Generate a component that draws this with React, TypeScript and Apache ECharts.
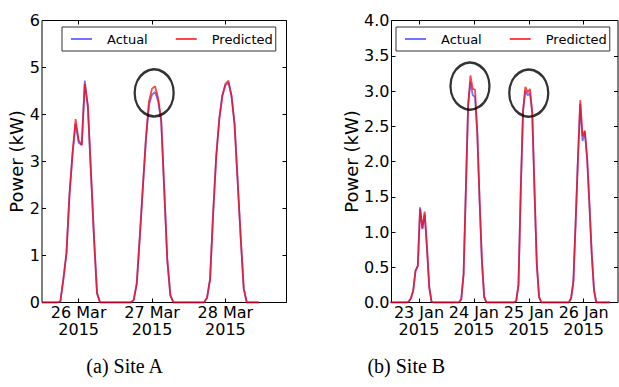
import React, { useEffect, useRef } from 'react';
import * as echarts from 'echarts';

// ---------- Site A (hours relative to 26 Mar 2015 00:00, hourly from -12) ----------
const startA = -12;
const actualA = [
  0, 0, 0, 0, 0, 0,
  0.02, 0.5, 1.05, 2.3, 3.15, 3.8, 3.4, 3.35, 4.72, 4.15, 2.8, 1.4, 0.2,
  0, 0, 0, 0, 0, 0, 0, 0, 0, 0,
  0, 0.05, 0.4, 1.4, 2.45, 3.45, 4.2, 4.42, 4.48, 4.28, 3.85, 2.4, 0.9, 0.15,
  0, 0, 0, 0, 0, 0, 0, 0, 0, 0,
  0, 0.1, 0.5, 1.9, 3.1, 3.9, 4.4, 4.62, 4.68, 4.4, 3.8, 2.6, 1.4, 0.3,
  0, 0, 0, 0, 0,
];
const predictedA = [
  0, 0, 0, 0, 0, 0,
  0.02, 0.5, 1.05, 2.3, 3.2, 3.9, 3.45, 3.35, 4.65, 4.2, 2.8, 1.4, 0.2,
  0, 0, 0, 0, 0, 0, 0, 0, 0, 0,
  0, 0.05, 0.4, 1.4, 2.45, 3.5, 4.28, 4.55, 4.6, 4.35, 3.9, 2.4, 0.9, 0.15,
  0, 0, 0, 0, 0, 0, 0, 0, 0, 0,
  0, 0.1, 0.5, 1.9, 3.1, 3.9, 4.4, 4.65, 4.72, 4.4, 3.8, 2.6, 1.4, 0.3,
  0, 0, 0, 0, 0,
];
const tickHoursA = [0, 24, 48];
const tickLabelsA = ['26 Mar\n2015', '27 Mar\n2015', '28 Mar\n2015'];
const circlesA = [[24.7, 4.46]];

// ---------- Site B (hours relative to 23 Jan 2015 00:00, hourly from -12.5) ----------
const startB = -12.5;
const actualB = [
  0, 0, 0, 0, 0, 0, 0, 0,
  0.01, 0.06, 0.17, 0.45, 0.52, 1.35, 1.04, 1.25, 0.78, 0.22, 0.01,
  0, 0, 0, 0, 0, 0, 0, 0, 0, 0, 0, 0,
  0.05, 0.4, 1.6, 2.8, 3.13, 2.94, 2.92, 2.4, 1.45, 0.6, 0.08,
  0, 0, 0, 0, 0, 0, 0, 0, 0, 0, 0, 0, 0,
  0.02, 0.25, 1.6, 2.72, 3.0, 2.94, 2.97, 2.7, 1.6, 0.55, 0.08,
  0, 0, 0, 0, 0, 0, 0, 0, 0, 0, 0, 0, 0,
  0.06, 0.3, 1.15, 2.05, 2.82, 2.29, 2.42, 2.05, 1.4, 0.7, 0.18,
  0, 0, 0, 0, 0, 0, 0,
];
const predictedB = [
  0, 0, 0, 0, 0, 0, 0, 0,
  0.01, 0.06, 0.17, 0.45, 0.52, 1.33, 1.05, 1.29, 0.78, 0.22, 0.01,
  0, 0, 0, 0, 0, 0, 0, 0, 0, 0, 0, 0,
  0.05, 0.4, 1.6, 2.8, 3.22, 3.03, 3.02, 2.4, 1.45, 0.6, 0.08,
  0, 0, 0, 0, 0, 0, 0, 0, 0, 0, 0, 0, 0,
  0.02, 0.25, 1.6, 2.72, 3.06, 2.98, 3.03, 2.7, 1.6, 0.55, 0.08,
  0, 0, 0, 0, 0, 0, 0, 0, 0, 0, 0, 0, 0,
  0.06, 0.3, 1.15, 2.05, 2.87, 2.36, 2.44, 2.05, 1.4, 0.7, 0.18,
  0, 0, 0, 0, 0, 0, 0,
];
const tickHoursB = [0, 24, 48, 72];
const tickLabelsB = ['23 Jan\n2015', '24 Jan\n2015', '25 Jan\n2015', '26 Jan\n2015'];
const circlesB = [[22.3, 3.07], [48.0, 2.97]];

const seriesNames = ['Actual', 'Predicted'];
const captions = ['(a) Site A', '(b) Site B'];

const FONT = 'DejaVu Sans';
const BLUE = 'rgba(0,0,255,0.55)';
const RED = 'rgba(255,0,0,0.72)';

const pairs = (start: number, vals: number[]) => vals.map((v, i) => [start + i, v]);

function xAxes(grid: number, min: number, max: number, ticks: number[], labels: string[]) {
  const base = {
    gridIndex: grid,
    type: 'value',
    min,
    max,
    axisLine: { show: false, onZero: false },
    splitLine: { show: false },
    axisTick: { show: true, inside: true, length: 4, customValues: ticks, lineStyle: { color: '#000', width: 1 } },
  };
  return [
    {
      ...base,
      position: 'bottom',
      axisLabel: {
        show: true,
        customValues: ticks,
        formatter: (v: number) => labels[ticks.indexOf(v)] ?? '',
        margin: 1,
        color: '#000',
        fontFamily: FONT,
        fontSize: 16,
        lineHeight: 17.5,
      },
    },
    { ...base, position: 'top', axisLabel: { show: false } },
  ];
}

function yAxes(grid: number, max: number, interval: number, digits: number, nameGap: number) {
  const base = {
    gridIndex: grid,
    type: 'value',
    min: 0,
    max,
    interval,
    axisLine: { show: false, onZero: false },
    splitLine: { show: false },
    axisTick: { show: true, inside: true, length: 4, lineStyle: { color: '#000', width: 1 } },
  };
  return [
    {
      ...base,
      position: 'left',
      name: 'Power (kW)',
      nameLocation: 'middle',
      nameGap,
      nameTextStyle: { color: '#000', fontFamily: FONT, fontSize: 18 },
      axisLabel: {
        show: true,
        margin: 2,
        color: '#000',
        fontFamily: FONT,
        fontSize: 16,
        formatter: (v: number) => v.toFixed(digits),
      },
    },
    { ...base, position: 'right', axisLabel: { show: false } },
  ];
}

function legendAt(left: number) {
  return {
    left,
    top: 27,
    orient: 'horizontal',
    data: seriesNames,
    icon: 'rect',
    itemWidth: 21,
    itemHeight: 2,
    itemGap: 28,
    padding: [5, 3, 5, 9],
    borderColor: '#333',
    borderWidth: 1,
    backgroundColor: '#fff',
    selectedMode: false,
    itemStyle: { borderWidth: 0 },
    textStyle: { color: '#000', fontFamily: FONT, fontSize: 13, lineHeight: 14, padding: [0, 0, 0, 10] },
  };
}

function lineSeries(name: string, color: string, xi: number, yi: number, data: number[][]) {
  return {
    name,
    type: 'line',
    xAxisIndex: xi,
    yAxisIndex: yi,
    data,
    showSymbol: false,
    symbol: 'none',
    color,
    lineStyle: { color, width: 1.8 },
    clip: true,
    z: 2,
  };
}

function circleSeries(xi: number, yi: number, data: number[][]) {
  return {
    name: 'highlight',
    type: 'scatter',
    xAxisIndex: xi,
    yAxisIndex: yi,
    data,
    symbol: 'circle',
    symbolSize: [39, 47],
    itemStyle: { color: 'rgba(0,0,0,0)', borderColor: '#000', borderWidth: 2.5 },
    silent: true,
    z: 5,
  };
}

export default function App() {
  const ref = useRef<HTMLDivElement>(null);
  useEffect(() => {
    if (!ref.current) return;
    const chart = echarts.init(ref.current, null, { renderer: 'svg' });
    chart.setOption({
      animation: false,
      backgroundColor: '#fff',
      grid: [
        { left: 42, top: 20.5, width: 244.5, height: 282, show: true, borderColor: '#000', borderWidth: 1, backgroundColor: 'transparent' },
        { left: 391.5, top: 20.5, width: 226.5, height: 282, show: true, borderColor: '#000', borderWidth: 1, backgroundColor: 'transparent' },
      ],
      xAxis: [
        ...xAxes(0, -12, 68, tickHoursA, tickLabelsA),
        ...xAxes(1, -12, 87, tickHoursB, tickLabelsB),
      ],
      yAxis: [
        ...yAxes(0, 6, 1, 0, 16),
        ...yAxes(1, 4, 0.5, 1, 31),
      ],
      legend: [legendAt(62), legendAt(396)],
      series: [
        lineSeries(seriesNames[0], BLUE, 0, 0, pairs(startA, actualA)),
        lineSeries(seriesNames[1], RED, 0, 0, pairs(startA, predictedA)),
        lineSeries(seriesNames[0], BLUE, 2, 2, pairs(startB, actualB)),
        lineSeries(seriesNames[1], RED, 2, 2, pairs(startB, predictedB)),
        circleSeries(0, 0, circlesA),
        circleSeries(2, 2, circlesB),
      ],
      graphic: [
        { type: 'text', x: 124.7, y: 366, style: { text: captions[0], fontFamily: 'Liberation Serif', fontSize: 20, fill: '#000', align: 'center', verticalAlign: 'middle' } },
        { type: 'text', x: 406.3, y: 366, style: { text: captions[1], fontFamily: 'Liberation Serif', fontSize: 20, fill: '#000', align: 'center', verticalAlign: 'middle' } },
      ],
    });
    return () => chart.dispose();
  }, []);
  return <div ref={ref} style={{ position: 'fixed', left: 0, top: 0, width: 619, height: 387 }} />;
}
